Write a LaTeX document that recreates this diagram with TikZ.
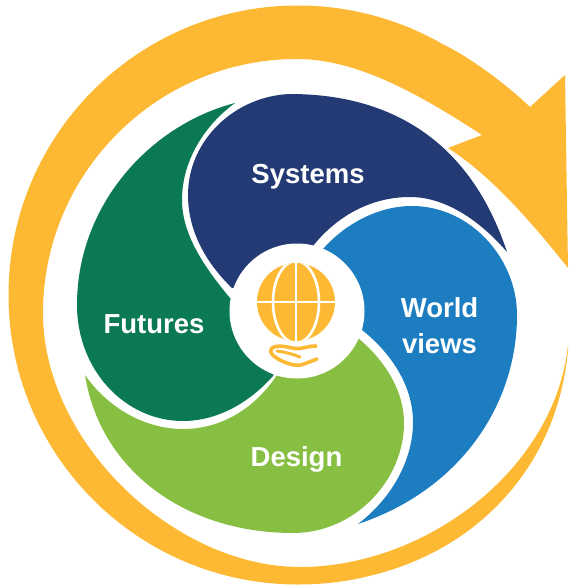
\documentclass[tikz,border=0pt]{standalone}
\usepackage{fontspec}
\setmainfont{Liberation Sans}
\definecolor{amber}{HTML}{FDB934}
\definecolor{navy}{HTML}{233A75}
\definecolor{azure}{HTML}{1D7DC1}
\definecolor{forest}{HTML}{0B7A53}
\definecolor{lime}{HTML}{86BF42}
\tikzset{
  bladelabel/.style={text=white,font=\fontsize{27.5}{30}\selectfont\bfseries,anchor=base,inner sep=0pt},
  hublayer/.style={circle,fill=white,inner sep=0pt,minimum size=135pt},
  globeline/.style={draw=white,line width=2.6pt},
  handline/.style={draw=amber,line width=3.6pt,line cap=round,line join=round}
}
\begin{document}
\begin{tikzpicture}[x=1pt,y=-1pt]
\useasboundingbox (0,0) rectangle (568,585);
% outer arrow
\fill[amber] (530,107)
  .. controls (506,84) and (471,58) .. (443,44.3)
  .. controls (399,19) and (349,5.5) .. (298,5.5)
  .. controls (138,5.5) and (8.5,135) .. (8.5,295)
  .. controls (8.5,455) and (138,584.5) .. (298,584.5)
  .. controls (323,584.5) and (348.6,581.5) .. (373,575)
  .. controls (482,548) and (558,462) .. (568,350)
  -- (568,345)
  .. controls (555,470) and (425,567) .. (300,567)
  .. controls (175,567) and (43,443) .. (43,313)
  .. controls (43,173) and (157,59) .. (297,59)
  .. controls (360,59) and (425,98) .. (482,135)
  -- (448,148)
  .. controls (490,175) and (530,220) .. (568,268)
  -- (565,75) -- cycle;
% Systems
\fill[navy] (232,288)
  .. controls (205,262) and (188,230) .. (188,195)
  .. controls (188,140) and (235,96) .. (290,94)
  .. controls (390,94) and (470,140) .. (507,252)
  .. controls (483,224) and (448,197) .. (410,197)
  .. controls (370,197) and (336,217) .. (313,246)
  -- (297,280) -- cycle;
% World views
\fill[azure] (323,249)
  .. controls (345,224) and (378,206) .. (412,206)
  .. controls (470,206) and (517,258) .. (517,315)
  .. controls (517,405) and (460,490) .. (358,524)
  .. controls (392,498) and (413,460) .. (413,422)
  .. controls (413,385) and (390,352) .. (362,330)
  -- (320,300) -- cycle;
% Futures
\fill[forest] (235,103)
  .. controls (150,125) and (77,205) .. (77,305)
  .. controls (77,370) and (125,421) .. (183,421)
  .. controls (218,421) and (250,402) .. (273,376)
  -- (290,330) -- (230,298)
  .. controls (205,268) and (182,235) .. (182,200)
  .. controls (182,160) and (205,125) .. (235,103) -- cycle;
% Design
\fill[lime] (85,375)
  .. controls (100,470) and (185,533) .. (293,533)
  .. controls (355,533) and (404,480) .. (404,423)
  .. controls (404,388) and (382,358) .. (358,338)
  -- (300,340) -- (277,375)
  .. controls (255,408) and (222,429) .. (183,429)
  .. controls (145,429) and (108,408) .. (85,375) -- cycle;
% hub
\node[hublayer] (hub) at (297,311) {};
% globe
\node[circle,fill=amber,inner sep=0pt,minimum size=78pt] (globe) at (296,302) {};
\begin{scope}
\clip (296,302) circle (39);
\draw[globeline] (296,302) ellipse (23 and 41);
\draw[globeline] (250,302) -- (342,302);
\draw[globeline] (296,258) -- (296,346);
\end{scope}
% hand
\draw[handline] (316,346) .. controls (306,346) and (302,350) .. (292,348) .. controls (284,346) and (276,345) .. (272,348) .. controls (268,352) and (273,356) .. (280,360) .. controls (288,364) and (298,367) .. (304,364) -- (317,359);
\draw[handline,line width=3pt] (277,351) .. controls (285,352) and (292,354) .. (300,357);
% labels
\node[bladelabel] (systems) at (308,183) {Systems};
\node[bladelabel] (futures) at (154,333) {Futures};
\node[bladelabel] (design) at (296.5,466) {Design};
\node[bladelabel] (world) at (439.5,317) {World};
\node[bladelabel] (views) at (439.5,353) {views};
\end{tikzpicture}
\end{document}
